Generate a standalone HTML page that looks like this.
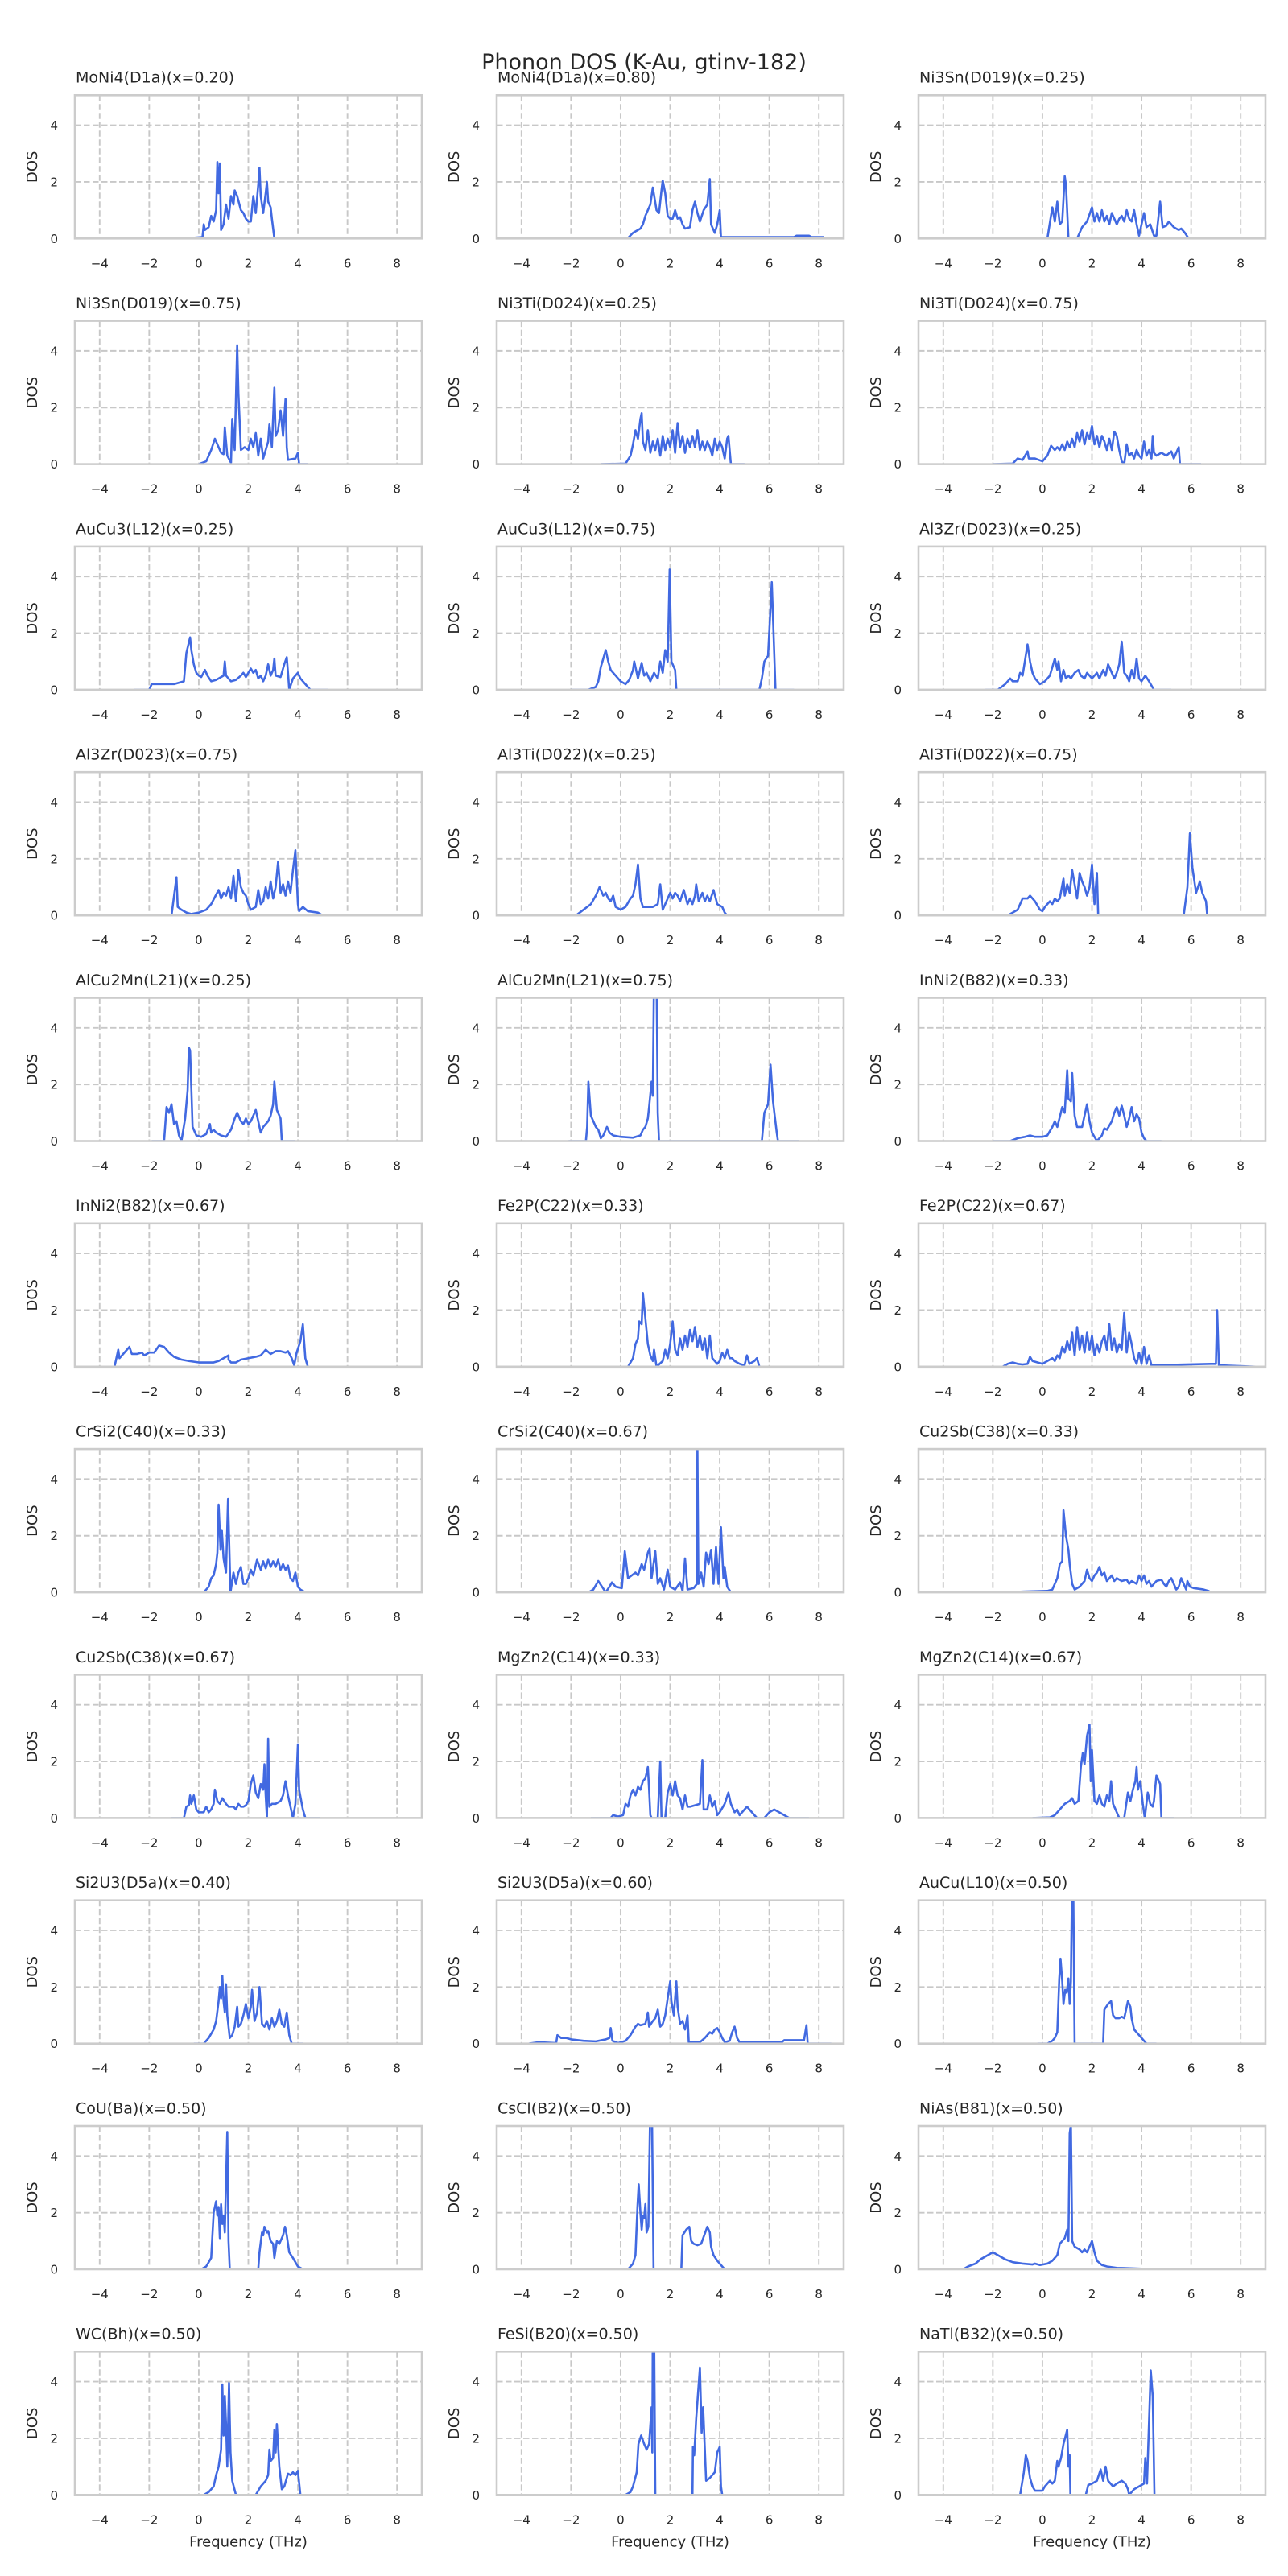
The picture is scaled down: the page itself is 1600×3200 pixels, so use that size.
<!DOCTYPE html>
<html><head><meta charset="utf-8"><style>
html,body{margin:0;padding:0;background:#fff;}
svg{display:block;}
text{font-family:"DejaVu Sans","Liberation Sans",sans-serif;fill:#262626;}
.t{font-size:19px;}
.tk{font-size:15px;}
.lb{font-size:18px;}
.ttl{font-size:27px;}
.cv{fill:none;stroke:#4169e1;stroke-width:2.6;stroke-linejoin:round;}
</style></head><body>
<svg xmlns="http://www.w3.org/2000/svg" xmlns:xlink="http://www.w3.org/1999/xlink" width="1600" height="3200" viewBox="0 0 1600 3200">
<defs>
<clipPath id="c"><rect x="0" y="0" width="431" height="178"/></clipPath>
<g id="grid" stroke="#c8c8c8" stroke-width="1.9" stroke-dasharray="7.5,3.5" fill="none">
<path d="M30.8,0V178M92.36,0V178M153.93,0V178M215.5,0V178M277.07,0V178M338.64,0V178M400.2,0V178M0,178H431M0,107.64H431M0,37.28H431"/>
</g>
<rect id="fr" x="0" y="0" width="431" height="178" fill="none" stroke="#cccccc" stroke-width="2.6"/>
</defs>
<rect width="1600" height="3200" fill="#fff"/>
<text class="ttl" x="800" y="86" text-anchor="middle">Phonon DOS (K-Au, gtinv-182)</text>

<!-- Row 0 -->
<g transform="translate(93,118.3)"><use xlink:href="#grid"/>
<g clip-path="url(#c)"><path class="cv" vector-effect="non-scaling-stroke" transform="matrix(30.786,0,0,-35.18,153.93,178)" d="M-0.6,0 0.15,0.05 0.2,0.5 0.25,0.3 0.4,0.4 0.5,0.8 0.6,0.6 0.7,1.0 0.75,2.7 0.8,1.6 0.85,2.65 0.9,0.3 1.0,0.5 1.1,1.2 1.2,0.7 1.3,1.5 1.4,1.2 1.45,1.7 1.55,1.5 1.7,1.0 1.8,0.9 1.9,0.7 2.0,0.6 2.1,0.6 2.2,1.5 2.3,0.9 2.4,1.9 2.45,2.5 2.5,1.5 2.6,0.9 2.7,1.6 2.75,2.0 2.8,1.3 2.9,1.1 2.95,0.7 3.05,0 3.4,0"/></g>
<use xlink:href="#fr"/>
<text class="t" x="1" y="-15.6">MoNi4(D1a)(x=0.20)</text>
<text class="tk" y="214" text-anchor="middle"><tspan x="30.8">−4</tspan><tspan x="92.36">−2</tspan><tspan x="153.93">0</tspan><tspan x="215.5">2</tspan><tspan x="277.07">4</tspan><tspan x="338.64">6</tspan><tspan x="400.2">8</tspan></text>
<text class="tk" text-anchor="end"><tspan x="-21" y="183.5">0</tspan><tspan x="-21" y="113.1">2</tspan><tspan x="-21" y="42.8">4</tspan></text>
<text class="lb" transform="translate(-47,89) rotate(-90)" text-anchor="middle">DOS</text></g>

<g transform="translate(617,118.3)"><use xlink:href="#grid"/>
<g clip-path="url(#c)"><path class="cv" vector-effect="non-scaling-stroke" transform="matrix(30.786,0,0,-35.18,153.93,178)" d="M-1.3,0 0.3,0.02 0.5,0.2 0.8,0.35 0.9,0.5 1.0,0.8 1.2,1.2 1.3,1.8 1.45,1.0 1.55,0.9 1.65,1.7 1.7,2.05 1.8,1.6 1.9,0.8 2.0,0.7 2.1,0.7 2.2,1.0 2.3,0.7 2.4,0.75 2.5,0.5 2.6,0.35 2.8,0.4 2.9,1.0 3.0,1.3 3.1,0.9 3.2,0.6 3.35,1.0 3.5,1.2 3.6,2.1 3.65,0.5 3.8,0.2 3.9,0.5 4.0,1.0 4.05,0.05 7.0,0.05 7.1,0.1 7.6,0.1 7.7,0.05 8.2,0.05"/></g>
<use xlink:href="#fr"/>
<text class="t" x="1" y="-15.6">MoNi4(D1a)(x=0.80)</text>
<text class="tk" y="214" text-anchor="middle"><tspan x="30.8">−4</tspan><tspan x="92.36">−2</tspan><tspan x="153.93">0</tspan><tspan x="215.5">2</tspan><tspan x="277.07">4</tspan><tspan x="338.64">6</tspan><tspan x="400.2">8</tspan></text>
<text class="tk" text-anchor="end"><tspan x="-21" y="183.5">0</tspan><tspan x="-21" y="113.1">2</tspan><tspan x="-21" y="42.8">4</tspan></text>
<text class="lb" transform="translate(-47,89) rotate(-90)" text-anchor="middle">DOS</text></g>

<g transform="translate(1141,118.3)"><use xlink:href="#grid"/>
<g clip-path="url(#c)"><path class="cv" vector-effect="non-scaling-stroke" transform="matrix(30.786,0,0,-35.18,153.93,178)" d="M-0.8,0 0.2,0 0.4,1.1 0.5,0.6 0.6,1.3 0.7,0.5 0.8,0.6 0.9,2.2 0.95,1.9 1.05,0 1.4,0 1.6,0.4 1.8,0.6 2.0,1.1 2.1,0.6 2.2,0.9 2.3,0.6 2.4,1.0 2.5,0.6 2.6,0.8 2.7,0.5 2.8,0.9 2.9,0.7 3.0,0.5 3.1,0.7 3.2,0.8 3.3,0.6 3.4,1.0 3.5,0.7 3.6,0.6 3.7,1.0 3.8,0.5 3.9,0.1 4.0,0.5 4.1,0.9 4.2,0.4 4.35,0.5 4.5,0.1 4.6,0.1 4.75,1.3 4.85,0.4 5.0,0.45 5.1,0.6 5.2,0.5 5.3,0.4 5.5,0.3 5.6,0.35 5.75,0.2 5.9,0 6.6,0"/></g>
<use xlink:href="#fr"/>
<text class="t" x="1" y="-15.6">Ni3Sn(D019)(x=0.25)</text>
<text class="tk" y="214" text-anchor="middle"><tspan x="30.8">−4</tspan><tspan x="92.36">−2</tspan><tspan x="153.93">0</tspan><tspan x="215.5">2</tspan><tspan x="277.07">4</tspan><tspan x="338.64">6</tspan><tspan x="400.2">8</tspan></text>
<text class="tk" text-anchor="end"><tspan x="-21" y="183.5">0</tspan><tspan x="-21" y="113.1">2</tspan><tspan x="-21" y="42.8">4</tspan></text>
<text class="lb" transform="translate(-47,89) rotate(-90)" text-anchor="middle">DOS</text></g>

<!-- Row 1 -->
<g transform="translate(93,398.6)"><use xlink:href="#grid"/>
<g clip-path="url(#c)"><path class="cv" vector-effect="non-scaling-stroke" transform="matrix(30.786,0,0,-35.18,153.93,178)" d="M0,0 0.3,0.1 0.5,0.5 0.65,0.9 0.8,0.6 0.9,0.4 1.0,0.35 1.05,1.3 1.15,0.3 1.3,0.05 1.35,1.6 1.45,0.5 1.55,4.2 1.6,2.5 1.7,0.5 1.85,0.6 2.0,0.5 2.1,0.9 2.2,0.6 2.3,1.1 2.4,0.3 2.5,0.9 2.6,0.2 2.7,0.5 2.8,0.8 2.85,1.4 2.95,0.6 3.05,2.7 3.1,1.0 3.2,1.2 3.3,1.9 3.4,1.0 3.5,2.3 3.55,0.6 3.6,0.15 3.9,0.2 4.0,0.4 4.05,0 4.4,0"/></g>
<use xlink:href="#fr"/>
<text class="t" x="1" y="-15.6">Ni3Sn(D019)(x=0.75)</text>
<text class="tk" y="214" text-anchor="middle"><tspan x="30.8">−4</tspan><tspan x="92.36">−2</tspan><tspan x="153.93">0</tspan><tspan x="215.5">2</tspan><tspan x="277.07">4</tspan><tspan x="338.64">6</tspan><tspan x="400.2">8</tspan></text>
<text class="tk" text-anchor="end"><tspan x="-21" y="183.5">0</tspan><tspan x="-21" y="113.1">2</tspan><tspan x="-21" y="42.8">4</tspan></text>
<text class="lb" transform="translate(-47,89) rotate(-90)" text-anchor="middle">DOS</text></g>

<g transform="translate(617,398.6)"><use xlink:href="#grid"/>
<g clip-path="url(#c)"><path class="cv" vector-effect="non-scaling-stroke" transform="matrix(30.786,0,0,-35.18,153.93,178)" d="M-0.8,0 0.2,0.02 0.4,0.3 0.5,0.7 0.6,1.2 0.7,0.9 0.8,1.6 0.85,1.8 0.9,0.8 1.0,0.5 1.1,1.2 1.2,0.4 1.3,0.8 1.4,0.5 1.5,0.9 1.6,0.3 1.7,1.0 1.8,0.5 1.9,0.9 2.0,0.6 2.1,1.2 2.2,0.4 2.3,1.45 2.4,0.6 2.5,1.0 2.6,0.4 2.7,0.9 2.8,0.6 2.9,1.0 3.0,0.6 3.1,1.2 3.2,0.5 3.3,0.8 3.4,0.5 3.5,0.8 3.6,0.6 3.7,0.3 3.8,0.9 3.9,0.5 4.0,0.8 4.1,0.6 4.2,0.2 4.3,0.9 4.35,1.0 4.45,0 5.0,0"/></g>
<use xlink:href="#fr"/>
<text class="t" x="1" y="-15.6">Ni3Ti(D024)(x=0.25)</text>
<text class="tk" y="214" text-anchor="middle"><tspan x="30.8">−4</tspan><tspan x="92.36">−2</tspan><tspan x="153.93">0</tspan><tspan x="215.5">2</tspan><tspan x="277.07">4</tspan><tspan x="338.64">6</tspan><tspan x="400.2">8</tspan></text>
<text class="tk" text-anchor="end"><tspan x="-21" y="183.5">0</tspan><tspan x="-21" y="113.1">2</tspan><tspan x="-21" y="42.8">4</tspan></text>
<text class="lb" transform="translate(-47,89) rotate(-90)" text-anchor="middle">DOS</text></g>

<g transform="translate(1141,398.6)"><use xlink:href="#grid"/>
<g clip-path="url(#c)"><path class="cv" vector-effect="non-scaling-stroke" transform="matrix(30.786,0,0,-35.18,153.93,178)" d="M-2,0 -1.2,0.02 -1.0,0.2 -0.8,0.15 -0.6,0.45 -0.55,0.2 -0.3,0.2 0,0.1 0.2,0.3 0.35,0.65 0.5,0.5 0.6,0.6 0.7,0.5 0.8,0.7 0.9,0.5 1.0,0.8 1.1,0.6 1.2,0.9 1.3,0.6 1.4,1.1 1.5,0.8 1.6,1.2 1.7,0.7 1.8,1.1 1.9,0.9 2.0,1.35 2.1,0.7 2.2,1.0 2.3,0.6 2.4,1.0 2.5,0.8 2.6,0.5 2.7,0.9 2.8,0.5 2.9,1.15 3.0,1.0 3.1,0.5 3.2,0.1 3.3,0.0 3.4,0.7 3.5,0.3 3.6,0.4 3.7,0.2 3.8,0.5 3.9,0.3 4.0,0.2 4.1,0.8 4.2,0.3 4.3,0.5 4.4,0.2 4.45,1.0 4.5,0.4 4.6,0.3 4.8,0.4 5.0,0.3 5.2,0.45 5.3,0.2 5.5,0.6 5.55,0 6.4,0"/></g>
<use xlink:href="#fr"/>
<text class="t" x="1" y="-15.6">Ni3Ti(D024)(x=0.75)</text>
<text class="tk" y="214" text-anchor="middle"><tspan x="30.8">−4</tspan><tspan x="92.36">−2</tspan><tspan x="153.93">0</tspan><tspan x="215.5">2</tspan><tspan x="277.07">4</tspan><tspan x="338.64">6</tspan><tspan x="400.2">8</tspan></text>
<text class="tk" text-anchor="end"><tspan x="-21" y="183.5">0</tspan><tspan x="-21" y="113.1">2</tspan><tspan x="-21" y="42.8">4</tspan></text>
<text class="lb" transform="translate(-47,89) rotate(-90)" text-anchor="middle">DOS</text></g>

<!-- Row 2 -->
<g transform="translate(93,678.9)"><use xlink:href="#grid"/>
<g clip-path="url(#c)"><path class="cv" vector-effect="non-scaling-stroke" transform="matrix(30.786,0,0,-35.18,153.93,178)" d="M-2.6,0 -2.0,0 -1.9,0.2 -1.5,0.2 -1.0,0.2 -0.6,0.3 -0.5,1.3 -0.35,1.85 -0.3,1.4 -0.2,0.9 -0.1,0.6 0,0.5 0.1,0.45 0.25,0.7 0.35,0.5 0.5,0.3 0.7,0.35 0.9,0.45 1.0,0.5 1.05,1.0 1.1,0.5 1.3,0.3 1.5,0.35 1.7,0.5 1.8,0.6 1.9,0.45 2.0,0.6 2.1,0.75 2.2,0.6 2.3,0.7 2.4,0.4 2.5,0.5 2.6,0.3 2.7,0.5 2.8,0.9 2.9,0.5 3.0,0.7 3.05,1.1 3.1,0.5 3.3,0.45 3.45,0.9 3.55,1.15 3.6,0.6 3.65,0 3.8,0.4 4.0,0.6 4.1,0.4 4.3,0.2 4.5,0 5.2,0"/></g>
<use xlink:href="#fr"/>
<text class="t" x="1" y="-15.6">AuCu3(L12)(x=0.25)</text>
<text class="tk" y="214" text-anchor="middle"><tspan x="30.8">−4</tspan><tspan x="92.36">−2</tspan><tspan x="153.93">0</tspan><tspan x="215.5">2</tspan><tspan x="277.07">4</tspan><tspan x="338.64">6</tspan><tspan x="400.2">8</tspan></text>
<text class="tk" text-anchor="end"><tspan x="-21" y="183.5">0</tspan><tspan x="-21" y="113.1">2</tspan><tspan x="-21" y="42.8">4</tspan></text>
<text class="lb" transform="translate(-47,89) rotate(-90)" text-anchor="middle">DOS</text></g>

<g transform="translate(617,678.9)"><use xlink:href="#grid"/>
<g clip-path="url(#c)"><path class="cv" vector-effect="non-scaling-stroke" transform="matrix(30.786,0,0,-35.18,153.93,178)" d="M-2.0,0 -1.3,0 -1.0,0.1 -0.9,0.3 -0.8,0.8 -0.7,1.1 -0.6,1.4 -0.5,1.0 -0.4,0.7 -0.2,0.5 0,0.3 0.2,0.2 0.35,0.35 0.5,0.7 0.55,1.0 0.7,0.4 0.85,0.95 0.95,0.5 1.05,0.6 1.2,0.3 1.35,0.6 1.5,0.4 1.6,1.0 1.7,0.6 1.8,1.4 1.9,1.0 1.98,4.25 2.05,1.0 2.2,0.7 2.25,0 5.6,0 5.7,0.4 5.8,1.0 5.95,1.2 6.1,3.8 6.25,0 7.0,0"/></g>
<use xlink:href="#fr"/>
<text class="t" x="1" y="-15.6">AuCu3(L12)(x=0.75)</text>
<text class="tk" y="214" text-anchor="middle"><tspan x="30.8">−4</tspan><tspan x="92.36">−2</tspan><tspan x="153.93">0</tspan><tspan x="215.5">2</tspan><tspan x="277.07">4</tspan><tspan x="338.64">6</tspan><tspan x="400.2">8</tspan></text>
<text class="tk" text-anchor="end"><tspan x="-21" y="183.5">0</tspan><tspan x="-21" y="113.1">2</tspan><tspan x="-21" y="42.8">4</tspan></text>
<text class="lb" transform="translate(-47,89) rotate(-90)" text-anchor="middle">DOS</text></g>

<g transform="translate(1141,678.9)"><use xlink:href="#grid"/>
<g clip-path="url(#c)"><path class="cv" vector-effect="non-scaling-stroke" transform="matrix(30.786,0,0,-35.18,153.93,178)" d="M-2.3,0 -1.8,0 -1.5,0.2 -1.3,0.4 -1.2,0.3 -1.0,0.3 -0.9,0.6 -0.8,0.5 -0.6,1.6 -0.5,1.0 -0.4,0.6 -0.3,0.4 -0.1,0.2 0.1,0.3 0.3,0.5 0.5,1.1 0.6,0.7 0.65,1.0 0.75,0.3 0.85,0.7 0.95,0.4 1.05,0.5 1.15,0.4 1.3,0.6 1.45,0.7 1.55,0.5 1.7,0.4 1.8,0.6 2.0,0.4 2.1,0.5 2.2,0.6 2.3,0.4 2.45,0.7 2.55,0.5 2.65,0.9 2.8,0.6 2.9,0.4 3.0,0.6 3.1,0.9 3.2,1.7 3.3,0.6 3.4,0.5 3.5,0.3 3.6,0.7 3.7,0.4 3.8,1.1 3.9,0.4 4.0,0.3 4.15,0.5 4.3,0.3 4.5,0 5.2,0"/></g>
<use xlink:href="#fr"/>
<text class="t" x="1" y="-15.6">Al3Zr(D023)(x=0.25)</text>
<text class="tk" y="214" text-anchor="middle"><tspan x="30.8">−4</tspan><tspan x="92.36">−2</tspan><tspan x="153.93">0</tspan><tspan x="215.5">2</tspan><tspan x="277.07">4</tspan><tspan x="338.64">6</tspan><tspan x="400.2">8</tspan></text>
<text class="tk" text-anchor="end"><tspan x="-21" y="183.5">0</tspan><tspan x="-21" y="113.1">2</tspan><tspan x="-21" y="42.8">4</tspan></text>
<text class="lb" transform="translate(-47,89) rotate(-90)" text-anchor="middle">DOS</text></g>

<!-- Row 3 -->
<g transform="translate(93,959.2)"><use xlink:href="#grid"/>
<g clip-path="url(#c)"><path class="cv" vector-effect="non-scaling-stroke" transform="matrix(30.786,0,0,-35.18,153.93,178)" d="M-1.7,0 -1.1,0 -0.9,1.35 -0.85,0.3 -0.7,0.2 -0.5,0.1 -0.3,0.05 0,0.1 0.3,0.2 0.5,0.4 0.8,0.9 0.9,0.6 1.0,0.8 1.1,0.7 1.2,1.0 1.3,0.6 1.4,1.4 1.5,0.5 1.6,1.6 1.7,1.0 1.8,0.8 1.9,0.7 2.0,0.4 2.1,0.2 2.3,0.3 2.4,0.9 2.5,0.4 2.6,0.5 2.7,1.0 2.8,0.6 2.9,1.2 3.0,0.6 3.1,1.0 3.2,1.9 3.3,0.8 3.4,1.1 3.5,0.7 3.6,1.2 3.7,0.8 3.8,1.6 3.9,2.3 4.0,0.4 4.05,0.15 4.2,0.3 4.4,0.15 4.8,0.1 5.0,0 5.6,0"/></g>
<use xlink:href="#fr"/>
<text class="t" x="1" y="-15.6">Al3Zr(D023)(x=0.75)</text>
<text class="tk" y="214" text-anchor="middle"><tspan x="30.8">−4</tspan><tspan x="92.36">−2</tspan><tspan x="153.93">0</tspan><tspan x="215.5">2</tspan><tspan x="277.07">4</tspan><tspan x="338.64">6</tspan><tspan x="400.2">8</tspan></text>
<text class="tk" text-anchor="end"><tspan x="-21" y="183.5">0</tspan><tspan x="-21" y="113.1">2</tspan><tspan x="-21" y="42.8">4</tspan></text>
<text class="lb" transform="translate(-47,89) rotate(-90)" text-anchor="middle">DOS</text></g>

<g transform="translate(617,959.2)"><use xlink:href="#grid"/>
<g clip-path="url(#c)"><path class="cv" vector-effect="non-scaling-stroke" transform="matrix(30.786,0,0,-35.18,153.93,178)" d="M-2.4,0 -1.8,0 -1.5,0.2 -1.2,0.4 -1.0,0.7 -0.85,1.0 -0.7,0.7 -0.6,0.8 -0.5,0.6 -0.4,0.5 -0.3,0.7 -0.2,0.3 0,0.2 0.2,0.3 0.4,0.6 0.5,0.7 0.6,1.1 0.7,1.8 0.8,0.6 0.9,0.3 1.3,0.3 1.5,0.4 1.6,1.1 1.7,0.2 1.9,0.6 2.0,0.8 2.1,0.6 2.2,0.8 2.3,0.7 2.4,0.5 2.55,0.9 2.7,0.4 2.8,0.6 2.9,0.4 3.0,0.7 3.05,1.1 3.15,0.5 3.3,0.8 3.4,0.5 3.5,0.7 3.6,0.5 3.75,0.9 3.9,0.4 4.1,0.3 4.2,0.1 4.3,0 5.0,0"/></g>
<use xlink:href="#fr"/>
<text class="t" x="1" y="-15.6">Al3Ti(D022)(x=0.25)</text>
<text class="tk" y="214" text-anchor="middle"><tspan x="30.8">−4</tspan><tspan x="92.36">−2</tspan><tspan x="153.93">0</tspan><tspan x="215.5">2</tspan><tspan x="277.07">4</tspan><tspan x="338.64">6</tspan><tspan x="400.2">8</tspan></text>
<text class="tk" text-anchor="end"><tspan x="-21" y="183.5">0</tspan><tspan x="-21" y="113.1">2</tspan><tspan x="-21" y="42.8">4</tspan></text>
<text class="lb" transform="translate(-47,89) rotate(-90)" text-anchor="middle">DOS</text></g>

<g transform="translate(1141,959.2)"><use xlink:href="#grid"/>
<g clip-path="url(#c)"><path class="cv" vector-effect="non-scaling-stroke" transform="matrix(30.786,0,0,-35.18,153.93,178)" d="M-2.1,0 -1.4,0 -1.0,0.2 -0.8,0.6 -0.6,0.6 -0.5,0.7 -0.4,0.6 -0.3,0.5 -0.1,0.2 0,0.15 0.1,0.3 0.2,0.4 0.3,0.5 0.4,0.4 0.5,0.6 0.6,0.5 0.7,0.6 0.85,1.3 0.9,0.7 1.0,1.1 1.1,0.8 1.2,1.6 1.3,1.1 1.4,0.6 1.5,1.5 1.6,1.2 1.7,1.0 1.8,0.7 1.9,1.0 2.0,1.8 2.1,0.4 2.2,1.5 2.25,0 5.7,0 5.85,1.0 5.95,2.9 6.05,1.7 6.2,0.8 6.35,1.2 6.45,0.8 6.6,0.5 6.65,0 7.4,0"/></g>
<use xlink:href="#fr"/>
<text class="t" x="1" y="-15.6">Al3Ti(D022)(x=0.75)</text>
<text class="tk" y="214" text-anchor="middle"><tspan x="30.8">−4</tspan><tspan x="92.36">−2</tspan><tspan x="153.93">0</tspan><tspan x="215.5">2</tspan><tspan x="277.07">4</tspan><tspan x="338.64">6</tspan><tspan x="400.2">8</tspan></text>
<text class="tk" text-anchor="end"><tspan x="-21" y="183.5">0</tspan><tspan x="-21" y="113.1">2</tspan><tspan x="-21" y="42.8">4</tspan></text>
<text class="lb" transform="translate(-47,89) rotate(-90)" text-anchor="middle">DOS</text></g>

<!-- Row 4 -->
<g transform="translate(93,1239.5)"><use xlink:href="#grid"/>
<g clip-path="url(#c)"><path class="cv" vector-effect="non-scaling-stroke" transform="matrix(30.786,0,0,-35.18,153.93,178)" d="M-1.9,0 -1.4,0 -1.3,1.2 -1.2,1.0 -1.1,1.3 -1.0,0.6 -0.9,0.7 -0.8,0.2 -0.7,0 -0.55,0.8 -0.45,1.8 -0.4,3.3 -0.35,3.2 -0.25,0.5 -0.1,0.2 0.1,0.15 0.3,0.25 0.45,0.6 0.5,0.3 0.6,0.4 0.7,0.3 0.9,0.2 1.1,0.15 1.3,0.4 1.45,0.8 1.55,1.0 1.7,0.7 1.8,0.6 1.9,0.8 2.0,0.6 2.1,0.7 2.2,0.9 2.3,1.1 2.4,0.7 2.5,0.3 2.6,0.5 2.8,0.7 2.9,0.9 3.0,1.3 3.05,2.1 3.15,1.1 3.3,0.8 3.35,0 3.9,0"/></g>
<use xlink:href="#fr"/>
<text class="t" x="1" y="-15.6">AlCu2Mn(L21)(x=0.25)</text>
<text class="tk" y="214" text-anchor="middle"><tspan x="30.8">−4</tspan><tspan x="92.36">−2</tspan><tspan x="153.93">0</tspan><tspan x="215.5">2</tspan><tspan x="277.07">4</tspan><tspan x="338.64">6</tspan><tspan x="400.2">8</tspan></text>
<text class="tk" text-anchor="end"><tspan x="-21" y="183.5">0</tspan><tspan x="-21" y="113.1">2</tspan><tspan x="-21" y="42.8">4</tspan></text>
<text class="lb" transform="translate(-47,89) rotate(-90)" text-anchor="middle">DOS</text></g>

<g transform="translate(617,1239.5)"><use xlink:href="#grid"/>
<g clip-path="url(#c)"><path class="cv" vector-effect="non-scaling-stroke" transform="matrix(30.786,0,0,-35.18,153.93,178)" d="M-2.1,0 -1.4,0 -1.35,0.5 -1.3,2.1 -1.2,0.9 -1.1,0.7 -1.0,0.5 -0.9,0.4 -0.8,0.1 -0.7,0.2 -0.55,0.5 -0.45,0.3 -0.3,0.2 0,0.15 0.5,0.12 0.8,0.2 0.9,0.4 1.0,0.5 1.1,0.8 1.15,1.2 1.25,2.1 1.3,1.6 1.35,6 1.45,6 1.5,1.0 1.55,0 5.7,0 5.8,1.0 5.95,1.3 6.05,2.7 6.15,1.4 6.3,0.3 6.35,0 7.2,0"/></g>
<use xlink:href="#fr"/>
<text class="t" x="1" y="-15.6">AlCu2Mn(L21)(x=0.75)</text>
<text class="tk" y="214" text-anchor="middle"><tspan x="30.8">−4</tspan><tspan x="92.36">−2</tspan><tspan x="153.93">0</tspan><tspan x="215.5">2</tspan><tspan x="277.07">4</tspan><tspan x="338.64">6</tspan><tspan x="400.2">8</tspan></text>
<text class="tk" text-anchor="end"><tspan x="-21" y="183.5">0</tspan><tspan x="-21" y="113.1">2</tspan><tspan x="-21" y="42.8">4</tspan></text>
<text class="lb" transform="translate(-47,89) rotate(-90)" text-anchor="middle">DOS</text></g>

<g transform="translate(1141,1239.5)"><use xlink:href="#grid"/>
<g clip-path="url(#c)"><path class="cv" vector-effect="non-scaling-stroke" transform="matrix(30.786,0,0,-35.18,153.93,178)" d="M-2.0,0 -1.3,0 -1.0,0.1 -0.7,0.15 -0.5,0.2 -0.3,0.15 0,0.15 0.2,0.2 0.4,0.5 0.5,0.7 0.6,0.5 0.8,1.2 0.9,1.0 1.0,2.5 1.05,1.5 1.15,1.4 1.2,2.4 1.3,0.9 1.4,0.5 1.6,0.5 1.7,0.9 1.8,1.3 1.9,0.7 2.0,0.3 2.1,0.15 2.2,0 2.4,0.2 2.5,0.45 2.6,0.4 2.8,0.7 2.9,1.0 3.0,1.2 3.1,0.9 3.2,1.25 3.3,0.9 3.4,0.5 3.5,0.8 3.6,1.2 3.7,0.7 3.8,0.95 3.9,0.8 4.0,0.3 4.1,0.1 4.2,0 4.8,0"/></g>
<use xlink:href="#fr"/>
<text class="t" x="1" y="-15.6">InNi2(B82)(x=0.33)</text>
<text class="tk" y="214" text-anchor="middle"><tspan x="30.8">−4</tspan><tspan x="92.36">−2</tspan><tspan x="153.93">0</tspan><tspan x="215.5">2</tspan><tspan x="277.07">4</tspan><tspan x="338.64">6</tspan><tspan x="400.2">8</tspan></text>
<text class="tk" text-anchor="end"><tspan x="-21" y="183.5">0</tspan><tspan x="-21" y="113.1">2</tspan><tspan x="-21" y="42.8">4</tspan></text>
<text class="lb" transform="translate(-47,89) rotate(-90)" text-anchor="middle">DOS</text></g>

<!-- Row 5 -->
<g transform="translate(93,1519.8)"><use xlink:href="#grid"/>
<g clip-path="url(#c)"><path class="cv" vector-effect="non-scaling-stroke" transform="matrix(30.786,0,0,-35.18,153.93,178)" d="M-4.3,0 -3.4,0 -3.25,0.6 -3.2,0.3 -3.0,0.5 -2.8,0.7 -2.7,0.45 -2.5,0.45 -2.3,0.5 -2.2,0.4 -2.0,0.5 -1.8,0.5 -1.6,0.75 -1.4,0.7 -1.2,0.5 -1.0,0.35 -0.7,0.25 -0.4,0.2 0,0.15 0.3,0.15 0.6,0.15 0.8,0.2 1.0,0.3 1.2,0.4 1.2,0.25 1.3,0.15 1.5,0.15 1.7,0.25 2.0,0.3 2.3,0.35 2.5,0.4 2.7,0.6 2.9,0.45 3.1,0.55 3.3,0.55 3.5,0.5 3.6,0.55 3.75,0.3 3.85,0.05 3.95,0.5 4.1,0.9 4.2,1.5 4.3,0.3 4.4,0 5.2,0"/></g>
<use xlink:href="#fr"/>
<text class="t" x="1" y="-15.6">InNi2(B82)(x=0.67)</text>
<text class="tk" y="214" text-anchor="middle"><tspan x="30.8">−4</tspan><tspan x="92.36">−2</tspan><tspan x="153.93">0</tspan><tspan x="215.5">2</tspan><tspan x="277.07">4</tspan><tspan x="338.64">6</tspan><tspan x="400.2">8</tspan></text>
<text class="tk" text-anchor="end"><tspan x="-21" y="183.5">0</tspan><tspan x="-21" y="113.1">2</tspan><tspan x="-21" y="42.8">4</tspan></text>
<text class="lb" transform="translate(-47,89) rotate(-90)" text-anchor="middle">DOS</text></g>

<g transform="translate(617,1519.8)"><use xlink:href="#grid"/>
<g clip-path="url(#c)"><path class="cv" vector-effect="non-scaling-stroke" transform="matrix(30.786,0,0,-35.18,153.93,178)" d="M-0.4,0 0.3,0 0.5,0.3 0.6,0.8 0.7,1.0 0.75,1.6 0.85,1.5 0.9,2.6 1.0,1.7 1.1,0.8 1.2,0.4 1.3,0.2 1.35,0.6 1.45,0 1.7,0.2 1.8,0.6 1.9,0.3 2.0,0.8 2.1,1.6 2.2,0.6 2.3,0.4 2.4,1.0 2.5,0.6 2.6,1.1 2.7,0.7 2.8,1.3 2.9,0.9 3.0,1.4 3.1,0.7 3.2,1.1 3.3,0.6 3.4,1.0 3.5,0.3 3.6,1.1 3.7,0.3 3.9,0.1 4.0,0.2 4.1,0.5 4.2,0.3 4.3,0.6 4.4,0.3 4.5,0.3 4.6,0.2 4.8,0.1 5.0,0.05 5.1,0.4 5.2,0.1 5.4,0.2 5.5,0.3 5.6,0 6.1,0"/></g>
<use xlink:href="#fr"/>
<text class="t" x="1" y="-15.6">Fe2P(C22)(x=0.33)</text>
<text class="tk" y="214" text-anchor="middle"><tspan x="30.8">−4</tspan><tspan x="92.36">−2</tspan><tspan x="153.93">0</tspan><tspan x="215.5">2</tspan><tspan x="277.07">4</tspan><tspan x="338.64">6</tspan><tspan x="400.2">8</tspan></text>
<text class="tk" text-anchor="end"><tspan x="-21" y="183.5">0</tspan><tspan x="-21" y="113.1">2</tspan><tspan x="-21" y="42.8">4</tspan></text>
<text class="lb" transform="translate(-47,89) rotate(-90)" text-anchor="middle">DOS</text></g>

<g transform="translate(1141,1519.8)"><use xlink:href="#grid"/>
<g clip-path="url(#c)"><path class="cv" vector-effect="non-scaling-stroke" transform="matrix(30.786,0,0,-35.18,153.93,178)" d="M-2.5,0 -1.6,0 -1.4,0.1 -1.2,0.15 -1.0,0.1 -0.8,0.08 -0.6,0.1 -0.5,0.35 -0.4,0.2 -0.2,0.15 0,0.1 0.2,0.2 0.4,0.3 0.5,0.2 0.6,0.4 0.7,0.3 0.8,0.7 0.9,0.5 1.0,0.9 1.1,0.6 1.2,1.2 1.3,0.4 1.4,1.4 1.5,0.6 1.6,1.1 1.7,0.5 1.8,1.2 1.9,0.6 2.0,1.1 2.1,0.4 2.2,0.8 2.3,0.5 2.4,0.9 2.5,1.1 2.6,0.6 2.7,1.5 2.8,0.6 2.9,1.0 3.0,0.5 3.1,0.8 3.2,0.6 3.3,1.9 3.4,0.5 3.5,1.2 3.6,0.8 3.7,0.3 3.8,0.1 3.9,0.5 4.0,0.1 4.1,0.7 4.2,0.1 4.3,0.4 4.4,0.05 6.8,0.1 7.0,0.1 7.05,2.0 7.12,0.05 8.6,0"/></g>
<use xlink:href="#fr"/>
<text class="t" x="1" y="-15.6">Fe2P(C22)(x=0.67)</text>
<text class="tk" y="214" text-anchor="middle"><tspan x="30.8">−4</tspan><tspan x="92.36">−2</tspan><tspan x="153.93">0</tspan><tspan x="215.5">2</tspan><tspan x="277.07">4</tspan><tspan x="338.64">6</tspan><tspan x="400.2">8</tspan></text>
<text class="tk" text-anchor="end"><tspan x="-21" y="183.5">0</tspan><tspan x="-21" y="113.1">2</tspan><tspan x="-21" y="42.8">4</tspan></text>
<text class="lb" transform="translate(-47,89) rotate(-90)" text-anchor="middle">DOS</text></g>

<!-- Row 6 -->
<g transform="translate(93,1800.1)"><use xlink:href="#grid"/>
<g clip-path="url(#c)"><path class="cv" vector-effect="non-scaling-stroke" transform="matrix(30.786,0,0,-35.18,153.93,178)" d="M-0.3,0 0.2,0 0.4,0.2 0.5,0.5 0.6,0.6 0.7,1.0 0.75,1.4 0.8,3.1 0.88,1.5 0.93,2.2 1.0,1.2 1.1,0.7 1.18,3.3 1.28,0 1.4,0.7 1.5,0.3 1.6,0.7 1.7,0.9 1.8,0.3 1.9,0.3 2.0,0.5 2.1,0.8 2.2,0.6 2.35,1.15 2.5,0.8 2.6,1.1 2.7,0.85 2.8,1.15 2.9,0.9 3.0,1.1 3.1,0.9 3.2,1.15 3.3,0.8 3.4,1.0 3.5,0.8 3.6,0.95 3.7,0.5 3.8,0.4 3.9,0.7 4.0,0.2 4.1,0.1 4.3,0 4.7,0"/></g>
<use xlink:href="#fr"/>
<text class="t" x="1" y="-15.6">CrSi2(C40)(x=0.33)</text>
<text class="tk" y="214" text-anchor="middle"><tspan x="30.8">−4</tspan><tspan x="92.36">−2</tspan><tspan x="153.93">0</tspan><tspan x="215.5">2</tspan><tspan x="277.07">4</tspan><tspan x="338.64">6</tspan><tspan x="400.2">8</tspan></text>
<text class="tk" text-anchor="end"><tspan x="-21" y="183.5">0</tspan><tspan x="-21" y="113.1">2</tspan><tspan x="-21" y="42.8">4</tspan></text>
<text class="lb" transform="translate(-47,89) rotate(-90)" text-anchor="middle">DOS</text></g>

<g transform="translate(617,1800.1)"><use xlink:href="#grid"/>
<g clip-path="url(#c)"><path class="cv" vector-effect="non-scaling-stroke" transform="matrix(30.786,0,0,-35.18,153.93,178)" d="M-2.0,0 -1.3,0 -1.1,0.1 -0.9,0.4 -0.75,0.2 -0.6,0 -0.45,0.2 -0.35,0.35 -0.2,0.2 0.05,0.15 0.17,1.45 0.3,0.5 0.45,0.6 0.6,0.7 0.7,0.6 0.85,1.0 0.95,0.8 1.1,1.4 1.17,1.55 1.25,0.5 1.4,1.45 1.5,0.3 1.6,0.5 1.75,0.1 1.9,0.8 2.0,0.2 2.2,0.1 2.4,0.35 2.5,0.05 2.6,1.2 2.7,0.1 2.95,0.15 3.08,0.3 3.1,5.1 3.14,0.3 3.25,0.7 3.35,0.2 3.45,1.4 3.55,1.0 3.65,1.5 3.75,0.3 3.85,1.6 3.95,0.3 4.05,2.3 4.15,0.5 4.2,0.9 4.3,0.2 4.45,0 4.9,0"/></g>
<use xlink:href="#fr"/>
<text class="t" x="1" y="-15.6">CrSi2(C40)(x=0.67)</text>
<text class="tk" y="214" text-anchor="middle"><tspan x="30.8">−4</tspan><tspan x="92.36">−2</tspan><tspan x="153.93">0</tspan><tspan x="215.5">2</tspan><tspan x="277.07">4</tspan><tspan x="338.64">6</tspan><tspan x="400.2">8</tspan></text>
<text class="tk" text-anchor="end"><tspan x="-21" y="183.5">0</tspan><tspan x="-21" y="113.1">2</tspan><tspan x="-21" y="42.8">4</tspan></text>
<text class="lb" transform="translate(-47,89) rotate(-90)" text-anchor="middle">DOS</text></g>

<g transform="translate(1141,1800.1)"><use xlink:href="#grid"/>
<g clip-path="url(#c)"><path class="cv" vector-effect="non-scaling-stroke" transform="matrix(30.786,0,0,-35.18,153.93,178)" d="M-2.2,0 -1,0.02 0.2,0.05 0.4,0.1 0.6,0.5 0.7,1.0 0.8,1.1 0.85,2.9 0.95,2.0 1.05,1.5 1.1,1.0 1.2,0.3 1.3,0.1 1.5,0.2 1.7,0.4 1.8,0.8 1.9,0.5 2.0,0.4 2.1,0.6 2.2,0.7 2.3,0.9 2.4,0.6 2.5,0.7 2.6,0.4 2.7,0.5 2.8,0.6 2.9,0.4 3.0,0.5 3.2,0.4 3.4,0.45 3.5,0.3 3.6,0.4 3.8,0.3 3.9,0.6 4.0,0.4 4.1,0.6 4.2,0.3 4.3,0.4 4.4,0.2 4.5,0.3 4.6,0.4 4.8,0.45 4.9,0.3 5.0,0.2 5.1,0.4 5.2,0.5 5.3,0.3 5.4,0.1 5.5,0.2 5.6,0.5 5.7,0.3 5.8,0.1 5.85,0.4 5.95,0.2 6.1,0.15 6.5,0.1 6.7,0.05 6.8,0 7.9,0"/></g>
<use xlink:href="#fr"/>
<text class="t" x="1" y="-15.6">Cu2Sb(C38)(x=0.33)</text>
<text class="tk" y="214" text-anchor="middle"><tspan x="30.8">−4</tspan><tspan x="92.36">−2</tspan><tspan x="153.93">0</tspan><tspan x="215.5">2</tspan><tspan x="277.07">4</tspan><tspan x="338.64">6</tspan><tspan x="400.2">8</tspan></text>
<text class="tk" text-anchor="end"><tspan x="-21" y="183.5">0</tspan><tspan x="-21" y="113.1">2</tspan><tspan x="-21" y="42.8">4</tspan></text>
<text class="lb" transform="translate(-47,89) rotate(-90)" text-anchor="middle">DOS</text></g>

<!-- Row 7 -->
<g transform="translate(93,2080.4)"><use xlink:href="#grid"/>
<g clip-path="url(#c)"><path class="cv" vector-effect="non-scaling-stroke" transform="matrix(30.786,0,0,-35.18,153.93,178)" d="M-1.1,0 -0.6,0 -0.5,0.4 -0.4,0.45 -0.35,0.8 -0.3,0.5 -0.2,0.8 -0.1,0.3 0,0.2 0.2,0.2 0.3,0.4 0.4,0.2 0.5,0.3 0.6,0.5 0.65,1.0 0.75,0.6 0.85,0.5 0.95,0.7 1.1,0.5 1.2,0.4 1.4,0.4 1.5,0.3 1.6,0.5 1.7,0.4 1.8,0.4 1.9,0.45 2.0,0.6 2.1,1.2 2.2,1.5 2.3,0.9 2.4,0.7 2.5,1.2 2.6,1.0 2.65,1.9 2.7,0.8 2.75,0 2.8,2.8 2.85,0.4 2.95,0.5 3.1,0.5 3.3,0.6 3.4,0.8 3.5,1.3 3.6,0.8 3.7,0.4 3.8,0 3.9,0.5 4.0,2.6 4.05,1.0 4.2,0.3 4.3,0 4.9,0"/></g>
<use xlink:href="#fr"/>
<text class="t" x="1" y="-15.6">Cu2Sb(C38)(x=0.67)</text>
<text class="tk" y="214" text-anchor="middle"><tspan x="30.8">−4</tspan><tspan x="92.36">−2</tspan><tspan x="153.93">0</tspan><tspan x="215.5">2</tspan><tspan x="277.07">4</tspan><tspan x="338.64">6</tspan><tspan x="400.2">8</tspan></text>
<text class="tk" text-anchor="end"><tspan x="-21" y="183.5">0</tspan><tspan x="-21" y="113.1">2</tspan><tspan x="-21" y="42.8">4</tspan></text>
<text class="lb" transform="translate(-47,89) rotate(-90)" text-anchor="middle">DOS</text></g>

<g transform="translate(617,2080.4)"><use xlink:href="#grid"/>
<g clip-path="url(#c)"><path class="cv" vector-effect="non-scaling-stroke" transform="matrix(30.786,0,0,-35.18,153.93,178)" d="M-1.2,0 -0.4,0 -0.3,0.1 -0.1,0.05 0.1,0.1 0.2,0.5 0.3,0.4 0.4,0.8 0.5,1.0 0.6,0.8 0.7,1.1 0.8,1.0 0.9,1.3 1.0,1.4 1.1,1.8 1.15,1.0 1.2,0.1 1.25,0 1.5,0 1.6,2.0 1.65,0 1.8,0 1.9,0.9 2.0,1.2 2.1,0.8 2.2,1.3 2.3,0.8 2.4,0.7 2.5,0.3 2.6,0.8 2.7,0.4 2.8,0.4 3.0,0.45 3.2,0.5 3.3,2.05 3.35,0.3 3.5,0.3 3.6,0.8 3.7,0.4 3.8,0.6 3.9,0.1 4.0,0.2 4.2,0.5 4.35,0.9 4.45,0.5 4.6,0.2 4.7,0.3 4.8,0.1 5.0,0.3 5.1,0.4 5.2,0.3 5.4,0.1 5.5,0 5.8,0 6.0,0.2 6.2,0.3 6.4,0.2 6.6,0.1 6.8,0 7.6,0"/></g>
<use xlink:href="#fr"/>
<text class="t" x="1" y="-15.6">MgZn2(C14)(x=0.33)</text>
<text class="tk" y="214" text-anchor="middle"><tspan x="30.8">−4</tspan><tspan x="92.36">−2</tspan><tspan x="153.93">0</tspan><tspan x="215.5">2</tspan><tspan x="277.07">4</tspan><tspan x="338.64">6</tspan><tspan x="400.2">8</tspan></text>
<text class="tk" text-anchor="end"><tspan x="-21" y="183.5">0</tspan><tspan x="-21" y="113.1">2</tspan><tspan x="-21" y="42.8">4</tspan></text>
<text class="lb" transform="translate(-47,89) rotate(-90)" text-anchor="middle">DOS</text></g>

<g transform="translate(1141,2080.4)"><use xlink:href="#grid"/>
<g clip-path="url(#c)"><path class="cv" vector-effect="non-scaling-stroke" transform="matrix(30.786,0,0,-35.18,153.93,178)" d="M-0.4,0 0.3,0.02 0.5,0.1 0.7,0.3 0.9,0.5 1.1,0.6 1.2,0.7 1.3,0.5 1.45,0.6 1.55,1.8 1.63,2.3 1.7,1.9 1.8,2.9 1.9,3.3 1.95,1.3 2.0,2.4 2.1,0.6 2.2,0.5 2.3,0.8 2.4,0.5 2.5,0.4 2.6,0.8 2.7,0.6 2.77,1.3 2.85,0.5 3.0,0.2 3.1,0 3.3,0 3.45,0.9 3.55,0.6 3.65,1.0 3.75,1.3 3.8,1.8 3.85,1.0 3.95,1.3 4.05,0.5 4.13,0 4.25,0.9 4.35,0.5 4.45,0.4 4.5,0.6 4.6,1.5 4.7,1.3 4.75,1.2 4.8,0 5.3,0"/></g>
<use xlink:href="#fr"/>
<text class="t" x="1" y="-15.6">MgZn2(C14)(x=0.67)</text>
<text class="tk" y="214" text-anchor="middle"><tspan x="30.8">−4</tspan><tspan x="92.36">−2</tspan><tspan x="153.93">0</tspan><tspan x="215.5">2</tspan><tspan x="277.07">4</tspan><tspan x="338.64">6</tspan><tspan x="400.2">8</tspan></text>
<text class="tk" text-anchor="end"><tspan x="-21" y="183.5">0</tspan><tspan x="-21" y="113.1">2</tspan><tspan x="-21" y="42.8">4</tspan></text>
<text class="lb" transform="translate(-47,89) rotate(-90)" text-anchor="middle">DOS</text></g>

<!-- Row 8 -->
<g transform="translate(93,2360.7)"><use xlink:href="#grid"/>
<g clip-path="url(#c)"><path class="cv" vector-effect="non-scaling-stroke" transform="matrix(30.786,0,0,-35.18,153.93,178)" d="M-0.2,0 0.2,0 0.4,0.2 0.6,0.5 0.7,0.8 0.8,1.5 0.85,2.0 0.9,1.6 0.95,2.4 1.0,1.5 1.05,1.1 1.1,2.1 1.15,1.0 1.25,0.2 1.35,0.3 1.45,0.6 1.55,1.3 1.6,0.6 1.7,0.7 1.8,1.0 1.9,1.4 2.0,0.9 2.1,1.3 2.15,1.9 2.25,0.8 2.35,1.1 2.45,2.0 2.55,0.7 2.65,0.6 2.75,0.8 2.85,0.5 2.95,0.9 3.05,0.6 3.15,0.8 3.25,1.2 3.35,0.7 3.45,0.6 3.55,1.1 3.65,0.3 3.75,0 4.2,0"/></g>
<use xlink:href="#fr"/>
<text class="t" x="1" y="-15.6">Si2U3(D5a)(x=0.40)</text>
<text class="tk" y="214" text-anchor="middle"><tspan x="30.8">−4</tspan><tspan x="92.36">−2</tspan><tspan x="153.93">0</tspan><tspan x="215.5">2</tspan><tspan x="277.07">4</tspan><tspan x="338.64">6</tspan><tspan x="400.2">8</tspan></text>
<text class="tk" text-anchor="end"><tspan x="-21" y="183.5">0</tspan><tspan x="-21" y="113.1">2</tspan><tspan x="-21" y="42.8">4</tspan></text>
<text class="lb" transform="translate(-47,89) rotate(-90)" text-anchor="middle">DOS</text></g>

<g transform="translate(617,2360.7)"><use xlink:href="#grid"/>
<g clip-path="url(#c)"><path class="cv" vector-effect="non-scaling-stroke" transform="matrix(30.786,0,0,-35.18,153.93,178)" d="M-3.7,0 -3.3,0.05 -2.6,0.02 -2.55,0.3 -2.4,0.2 -2.2,0.2 -2.0,0.15 -1.5,0.1 -1.0,0.08 -0.6,0.15 -0.45,0.2 -0.4,0.55 -0.33,0.1 -0.1,0.02 0.2,0.1 0.4,0.3 0.6,0.6 0.7,0.7 0.8,0.65 1.0,0.7 1.1,1.1 1.15,0.6 1.3,0.8 1.4,0.9 1.5,1.2 1.6,0.6 1.7,0.7 1.8,1.0 1.9,1.6 2.0,2.2 2.05,1.5 2.15,1.0 2.25,2.2 2.3,1.3 2.4,0.7 2.5,0.8 2.6,0.5 2.7,1.0 2.75,0.05 3.2,0.05 3.4,0.2 3.6,0.4 3.7,0.35 3.8,0.5 3.9,0.55 4.0,0.4 4.1,0.2 4.2,0.05 4.4,0.1 4.5,0.4 4.6,0.6 4.7,0.2 4.8,0.05 6.5,0.05 6.6,0.12 7.4,0.12 7.5,0.65 7.55,0 8.5,0"/></g>
<use xlink:href="#fr"/>
<text class="t" x="1" y="-15.6">Si2U3(D5a)(x=0.60)</text>
<text class="tk" y="214" text-anchor="middle"><tspan x="30.8">−4</tspan><tspan x="92.36">−2</tspan><tspan x="153.93">0</tspan><tspan x="215.5">2</tspan><tspan x="277.07">4</tspan><tspan x="338.64">6</tspan><tspan x="400.2">8</tspan></text>
<text class="tk" text-anchor="end"><tspan x="-21" y="183.5">0</tspan><tspan x="-21" y="113.1">2</tspan><tspan x="-21" y="42.8">4</tspan></text>
<text class="lb" transform="translate(-47,89) rotate(-90)" text-anchor="middle">DOS</text></g>

<g transform="translate(1141,2360.7)"><use xlink:href="#grid"/>
<g clip-path="url(#c)"><path class="cv" vector-effect="non-scaling-stroke" transform="matrix(30.786,0,0,-35.18,153.93,178)" d="M-0.2,0 0.2,0 0.4,0.1 0.5,0.2 0.6,0.4 0.68,2.3 0.73,3.0 0.8,2.2 0.85,1.4 0.92,1.9 0.98,1.8 1.05,2.3 1.1,1.4 1.15,2.2 1.2,6 1.24,6 1.3,0 2.45,0 2.5,1.2 2.65,1.4 2.77,1.5 2.85,1.0 2.95,0.9 3.1,0.9 3.2,0.95 3.3,0.9 3.45,1.5 3.55,1.3 3.6,0.9 3.7,0.5 3.9,0.3 4.1,0.1 4.2,0 4.6,0"/></g>
<use xlink:href="#fr"/>
<text class="t" x="1" y="-15.6">AuCu(L10)(x=0.50)</text>
<text class="tk" y="214" text-anchor="middle"><tspan x="30.8">−4</tspan><tspan x="92.36">−2</tspan><tspan x="153.93">0</tspan><tspan x="215.5">2</tspan><tspan x="277.07">4</tspan><tspan x="338.64">6</tspan><tspan x="400.2">8</tspan></text>
<text class="tk" text-anchor="end"><tspan x="-21" y="183.5">0</tspan><tspan x="-21" y="113.1">2</tspan><tspan x="-21" y="42.8">4</tspan></text>
<text class="lb" transform="translate(-47,89) rotate(-90)" text-anchor="middle">DOS</text></g>

<!-- Row 9 -->
<g transform="translate(93,2641)"><use xlink:href="#grid"/>
<g clip-path="url(#c)"><path class="cv" vector-effect="non-scaling-stroke" transform="matrix(30.786,0,0,-35.18,153.93,178)" d="M-0.3,0 0.1,0 0.3,0.1 0.5,0.4 0.6,2.0 0.7,2.4 0.75,1.9 0.8,2.2 0.85,1.1 0.9,2.3 0.95,1.6 1.0,1.9 1.05,1.3 1.15,4.85 1.2,1.0 1.25,0 2.4,0 2.45,0.6 2.55,1.3 2.6,1.2 2.65,1.5 2.75,1.3 2.8,1.35 2.9,1.0 3.0,0.9 3.05,0.4 3.15,1.0 3.25,0.9 3.4,1.2 3.48,1.5 3.55,1.2 3.65,0.6 3.8,0.4 4.0,0.1 4.2,0 4.7,0"/></g>
<use xlink:href="#fr"/>
<text class="t" x="1" y="-15.6">CoU(Ba)(x=0.50)</text>
<text class="tk" y="214" text-anchor="middle"><tspan x="30.8">−4</tspan><tspan x="92.36">−2</tspan><tspan x="153.93">0</tspan><tspan x="215.5">2</tspan><tspan x="277.07">4</tspan><tspan x="338.64">6</tspan><tspan x="400.2">8</tspan></text>
<text class="tk" text-anchor="end"><tspan x="-21" y="183.5">0</tspan><tspan x="-21" y="113.1">2</tspan><tspan x="-21" y="42.8">4</tspan></text>
<text class="lb" transform="translate(-47,89) rotate(-90)" text-anchor="middle">DOS</text></g>

<g transform="translate(617,2641)"><use xlink:href="#grid"/>
<g clip-path="url(#c)"><path class="cv" vector-effect="non-scaling-stroke" transform="matrix(30.786,0,0,-35.18,153.93,178)" d="M-0.2,0 0.3,0 0.5,0.2 0.6,0.5 0.68,2.2 0.73,3.0 0.8,2.0 0.85,1.4 0.9,1.9 0.95,1.8 1.0,2.3 1.05,1.3 1.12,1.5 1.2,6 1.26,6 1.33,0 2.45,0 2.5,1.2 2.65,1.4 2.77,1.5 2.85,1.0 2.95,0.9 3.1,0.85 3.25,0.9 3.5,1.5 3.6,1.3 3.65,0.8 3.75,0.5 3.9,0.3 4.1,0.1 4.2,0 4.6,0"/></g>
<use xlink:href="#fr"/>
<text class="t" x="1" y="-15.6">CsCl(B2)(x=0.50)</text>
<text class="tk" y="214" text-anchor="middle"><tspan x="30.8">−4</tspan><tspan x="92.36">−2</tspan><tspan x="153.93">0</tspan><tspan x="215.5">2</tspan><tspan x="277.07">4</tspan><tspan x="338.64">6</tspan><tspan x="400.2">8</tspan></text>
<text class="tk" text-anchor="end"><tspan x="-21" y="183.5">0</tspan><tspan x="-21" y="113.1">2</tspan><tspan x="-21" y="42.8">4</tspan></text>
<text class="lb" transform="translate(-47,89) rotate(-90)" text-anchor="middle">DOS</text></g>

<g transform="translate(1141,2641)"><use xlink:href="#grid"/>
<g clip-path="url(#c)"><path class="cv" vector-effect="non-scaling-stroke" transform="matrix(30.786,0,0,-35.18,153.93,178)" d="M-4.0,0 -3.2,0 -3.0,0.1 -2.7,0.2 -2.5,0.35 -2.2,0.5 -2.0,0.6 -1.8,0.5 -1.5,0.35 -1.2,0.25 -0.8,0.2 -0.4,0.17 -0.3,0.2 -0.1,0.15 0.2,0.2 0.4,0.3 0.6,0.5 0.7,0.9 0.8,1.0 0.9,1.1 1.0,1.4 1.05,1.0 1.1,4.8 1.15,5.1 1.2,1.0 1.3,0.8 1.5,0.7 1.6,0.6 1.7,0.7 1.8,0.6 1.9,0.8 2.0,1.0 2.1,0.6 2.2,0.3 2.4,0.15 2.6,0.1 3.0,0.05 4.0,0.02 4.7,0"/></g>
<use xlink:href="#fr"/>
<text class="t" x="1" y="-15.6">NiAs(B81)(x=0.50)</text>
<text class="tk" y="214" text-anchor="middle"><tspan x="30.8">−4</tspan><tspan x="92.36">−2</tspan><tspan x="153.93">0</tspan><tspan x="215.5">2</tspan><tspan x="277.07">4</tspan><tspan x="338.64">6</tspan><tspan x="400.2">8</tspan></text>
<text class="tk" text-anchor="end"><tspan x="-21" y="183.5">0</tspan><tspan x="-21" y="113.1">2</tspan><tspan x="-21" y="42.8">4</tspan></text>
<text class="lb" transform="translate(-47,89) rotate(-90)" text-anchor="middle">DOS</text></g>

<!-- Row 10 -->
<g transform="translate(93,2921.3)"><use xlink:href="#grid"/>
<g clip-path="url(#c)"><path class="cv" vector-effect="non-scaling-stroke" transform="matrix(30.786,0,0,-35.18,153.93,178)" d="M-0.2,0 0.2,0 0.4,0.1 0.6,0.3 0.7,0.7 0.8,1.0 0.9,1.6 0.95,3.9 1.0,2.1 1.05,3.5 1.1,2.5 1.15,1.0 1.22,3.95 1.28,1.5 1.35,0.5 1.5,0 2.3,0 2.5,0.3 2.7,0.5 2.8,0.7 2.85,1.6 2.9,1.2 3.0,1.3 3.05,2.3 3.1,1.5 3.15,2.5 3.25,1.0 3.35,0.2 3.45,0.3 3.6,0.75 3.7,0.7 3.8,0.8 3.9,0.7 4.0,0.85 4.1,0 4.6,0"/></g>
<use xlink:href="#fr"/>
<text class="t" x="1" y="-15.6">WC(Bh)(x=0.50)</text>
<text class="tk" y="214" text-anchor="middle"><tspan x="30.8">−4</tspan><tspan x="92.36">−2</tspan><tspan x="153.93">0</tspan><tspan x="215.5">2</tspan><tspan x="277.07">4</tspan><tspan x="338.64">6</tspan><tspan x="400.2">8</tspan></text>
<text class="tk" text-anchor="end"><tspan x="-21" y="183.5">0</tspan><tspan x="-21" y="113.1">2</tspan><tspan x="-21" y="42.8">4</tspan></text>
<text class="lb" transform="translate(-47,89) rotate(-90)" text-anchor="middle">DOS</text>
<text class="lb" x="215.5" y="242" text-anchor="middle">Frequency (THz)</text></g>

<g transform="translate(617,2921.3)"><use xlink:href="#grid"/>
<g clip-path="url(#c)"><path class="cv" vector-effect="non-scaling-stroke" transform="matrix(30.786,0,0,-35.18,153.93,178)" d="M-0.1,0 0.2,0 0.4,0.1 0.5,0.3 0.65,0.8 0.72,1.8 0.83,2.1 0.95,1.8 1.05,1.6 1.15,1.8 1.25,3.1 1.28,1.5 1.3,6 1.35,6 1.4,0 2.9,0 2.92,1.7 2.97,1.4 3.05,2.7 3.2,4.5 3.27,2.2 3.33,3.1 3.45,0.5 3.6,0.6 3.8,0.8 3.9,1.5 4.0,1.7 4.05,0.3 4.1,0 4.5,0"/></g>
<use xlink:href="#fr"/>
<text class="t" x="1" y="-15.6">FeSi(B20)(x=0.50)</text>
<text class="tk" y="214" text-anchor="middle"><tspan x="30.8">−4</tspan><tspan x="92.36">−2</tspan><tspan x="153.93">0</tspan><tspan x="215.5">2</tspan><tspan x="277.07">4</tspan><tspan x="338.64">6</tspan><tspan x="400.2">8</tspan></text>
<text class="tk" text-anchor="end"><tspan x="-21" y="183.5">0</tspan><tspan x="-21" y="113.1">2</tspan><tspan x="-21" y="42.8">4</tspan></text>
<text class="lb" transform="translate(-47,89) rotate(-90)" text-anchor="middle">DOS</text>
<text class="lb" x="215.5" y="242" text-anchor="middle">Frequency (THz)</text></g>

<g transform="translate(1141,2921.3)"><use xlink:href="#grid"/>
<g clip-path="url(#c)"><path class="cv" vector-effect="non-scaling-stroke" transform="matrix(30.786,0,0,-35.18,153.93,178)" d="M-1.3,0 -0.9,0 -0.75,0.8 -0.67,1.4 -0.6,1.2 -0.5,0.6 -0.4,0.3 -0.3,0.15 0,0.15 0.1,0.3 0.3,0.5 0.4,0.4 0.5,0.5 0.6,1.2 0.65,1.0 0.75,1.3 0.85,1.8 1.0,2.3 1.05,1.0 1.1,1.4 1.13,0 1.75,0 1.85,0.35 2.0,0.4 2.2,0.5 2.35,0.9 2.45,0.5 2.55,1.0 2.65,0.5 2.85,0.3 3.0,0.4 3.2,0.5 3.35,0.4 3.45,0.2 3.5,0 3.7,0.2 3.9,0.3 4.1,0.4 4.15,1.3 4.22,0.4 4.37,4.4 4.45,3.5 4.52,0 5.0,0"/></g>
<use xlink:href="#fr"/>
<text class="t" x="1" y="-15.6">NaTl(B32)(x=0.50)</text>
<text class="tk" y="214" text-anchor="middle"><tspan x="30.8">−4</tspan><tspan x="92.36">−2</tspan><tspan x="153.93">0</tspan><tspan x="215.5">2</tspan><tspan x="277.07">4</tspan><tspan x="338.64">6</tspan><tspan x="400.2">8</tspan></text>
<text class="tk" text-anchor="end"><tspan x="-21" y="183.5">0</tspan><tspan x="-21" y="113.1">2</tspan><tspan x="-21" y="42.8">4</tspan></text>
<text class="lb" transform="translate(-47,89) rotate(-90)" text-anchor="middle">DOS</text>
<text class="lb" x="215.5" y="242" text-anchor="middle">Frequency (THz)</text></g>
</svg>
</body></html>
